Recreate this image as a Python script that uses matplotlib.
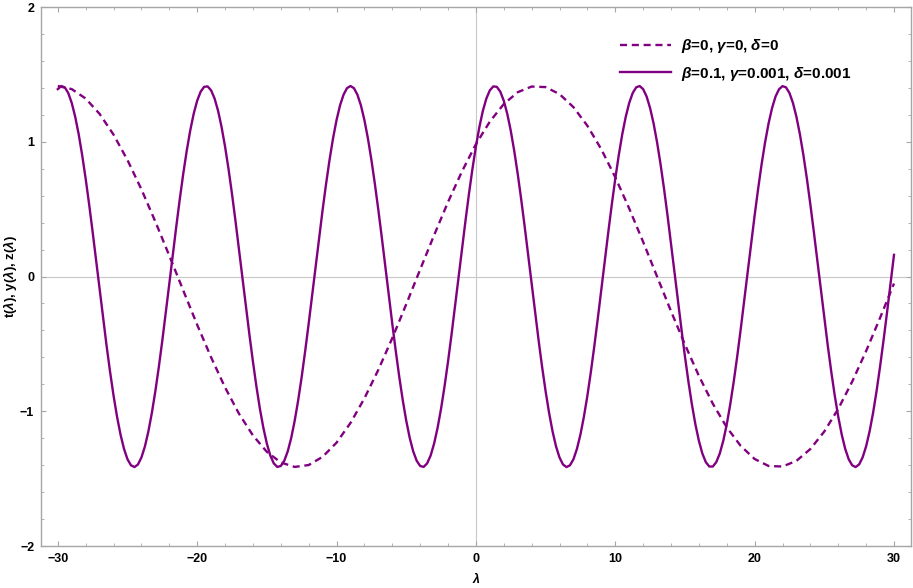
import numpy as np
import matplotlib
matplotlib.use("Agg")
import matplotlib.pyplot as plt
from matplotlib.ticker import MultipleLocator

plt.rcParams['font.family'] = ['Liberation Sans', 'DejaVu Sans']
plt.rcParams['mathtext.fontset'] = 'custom'
plt.rcParams['mathtext.it'] = 'Liberation Sans:italic:bold'
plt.rcParams['mathtext.rm'] = 'Liberation Sans:bold'
plt.rcParams['mathtext.bf'] = 'Liberation Sans:bold'

# lambda grids (curves at these steps)
lam_solid = np.linspace(-30, 30, 241)   # step 0.25
lam_dash = np.linspace(-30, 30, 61)     # step 1

# beta=0.1, gamma=0.001, delta=0.001
y_solid = [
    1.391, 1.414, 1.404, 1.362, 1.288,
    1.185, 1.055, 0.900, 0.725, 0.534, 0.330, 0.118, -0.096, -0.309, -0.514,
    -0.707, -0.884, -1.040, -1.173, -1.279, -1.356, -1.401, -1.414, -1.395, -1.343,
    -1.261, -1.149, -1.011, -0.850, -0.670, -0.474, -0.267, -0.054, 0.160, 0.371,
    0.573, 0.762, 0.933, 1.083, 1.208, 1.305, 1.372, 1.408, 1.411, 1.382,
    1.321, 1.230, 1.110, 0.965, 0.798, 0.612, 0.412, 0.203, -0.011, -0.224,
    -0.432, -0.631, -0.815, -0.981, -1.123, -1.240, -1.329, -1.387, -1.413, -1.406,
    -1.367, -1.297, -1.197, -1.069, -0.917, -0.744, -0.553, -0.350, -0.139, 0.075,
    0.288, 0.494, 0.688, 0.867, 1.026, 1.161, 1.270, 1.349, 1.398,
    1.414, 1.398, 1.349, 1.270, 1.161, 1.026, 0.867, 0.688, 0.494, 0.288,
    0.075, -0.139, -0.350, -0.553, -0.744, -0.917, -1.069, -1.197, -1.297, -1.367,
    -1.406, -1.413, -1.387, -1.329, -1.240, -1.123, -0.981, -0.815, -0.631, -0.432,
    -0.224, -0.011, 0.203, 0.412, 0.612, 0.798, 0.965, 1.110, 1.230, 1.321,
    1.382, 1.411, 1.408, 1.372, 1.305, 1.208, 1.083, 0.933, 0.762, 0.573,
    0.371, 0.160, -0.054, -0.267, -0.474, -0.670, -0.850, -1.011, -1.149, -1.261,
    -1.343, -1.395, -1.414, -1.401, -1.356, -1.279, -1.173, -1.040, -0.884, -0.707,
    -0.514, -0.309, -0.096, 0.118, 0.330, 0.534, 0.725, 0.900, 1.055, 1.185,
    1.288, 1.362, 1.404, 1.414, 1.391, 1.336, 1.250, 1.136, 0.996, 0.833,
    0.651, 0.453, 0.245, 0.032, -0.182, -0.392, -0.593, -0.780, -0.950, -1.097,
    -1.219, -1.314, -1.378, -1.410, -1.410, -1.377, -1.313, -1.219, -1.097, -0.949,
    -0.780, -0.593, -0.392, -0.182, 0.032, 0.245, 0.453, 0.650, 0.833, 0.996,
    1.136, 1.250, 1.336, 1.390, 1.413, 1.404, 1.362, 1.288, 1.185, 1.055,
    0.901, 0.726, 0.534, 0.330, 0.118, -0.097, -0.309, -0.514, -0.707, -0.884,
    -1.040, -1.173, -1.279, -1.356, -1.401, -1.414, -1.394, -1.342, -1.260, -1.149,
    -1.011, -0.850, -0.669, -0.473, -0.267, -0.054, 0.161]

# beta=0, gamma=0, delta=0
y_dash = [1.414, 1.391, 1.321, 1.207, 1.053, 0.864, 0.647, 0.407, 0.155, -0.103,
          -0.358, -0.600, -0.823, -1.018, -1.179, -1.301, -1.380, -1.413, -1.399, -1.338,
          -1.233, -1.087, -0.904, -0.692, -0.457, -0.206, 0.052, 0.307, 0.553, 0.780,
          0.982, 1.150, 1.280, 1.368, 1.410, 1.406, 1.354, 1.257, 1.119, 0.944,
          0.737, 0.505, 0.257, 0.000, -0.257, -0.505, -0.737, -0.944, -1.119, -1.257,
          -1.354, -1.406, -1.410, -1.368, -1.280, -1.150, -0.982, -0.780, -0.553, -0.307,
          -0.052]

purple = '#800080'
frame_col = '#a6a6a6'

fig = plt.figure(figsize=(9.13, 5.88), dpi=100)
ax = fig.add_axes([0.045, 0.0714, 0.9525, 0.9166])

ax.axhline(0, color='#c8c8c8', lw=0.8, zorder=1)
ax.axvline(0, color='#c8c8c8', lw=0.8, zorder=1)

ax.plot(lam_dash, y_dash, color=purple, lw=1.7, ls=(0, (3.0, 2.0)),
        label=r'$\beta$=0, $\gamma$=0, $\delta$=0', zorder=3)
ax.plot(lam_solid, y_solid, color=purple, lw=1.7,
        label=r'$\beta$=0.1, $\gamma$=0.001, $\delta$=0.001', zorder=3)

ax.set_xlim(-31.2, 31.2)
ax.set_ylim(-2, 2)
ax.xaxis.set_major_locator(MultipleLocator(10))
ax.xaxis.set_minor_locator(MultipleLocator(2))
ax.yaxis.set_major_locator(MultipleLocator(1))
ax.yaxis.set_minor_locator(MultipleLocator(0.2))

for s in ax.spines.values():
    s.set_color(frame_col)
    s.set_linewidth(1.0)
ax.tick_params(which='both', direction='in', color=frame_col, top=True, right=True,
               labelsize=9, labelcolor='black', pad=5)
ax.tick_params(which='major', length=3.6, width=0.8)
ax.tick_params(which='minor', length=2.2, width=0.6)
for lbl in ax.get_xticklabels() + ax.get_yticklabels():
    lbl.set_fontweight('bold')

ax.set_xlabel(r'$\lambda$', fontsize=9)
ax.xaxis.set_label_coords(0.5, -0.046)
ax.set_ylabel(r't($\lambda$), y($\lambda$), z($\lambda$)', fontsize=9.5,
              fontweight='bold')
ax.yaxis.set_label_coords(-0.0255, 0.5)

leg = ax.legend(loc='upper left', bbox_to_anchor=(0.666, 0.944), frameon=False,
                borderpad=0, borderaxespad=0,
                handlelength=3.3, handletextpad=0.65, labelspacing=0.62,
                prop={'size': 11, 'weight': 'bold'})

fig.savefig('out.png', dpi=100)
